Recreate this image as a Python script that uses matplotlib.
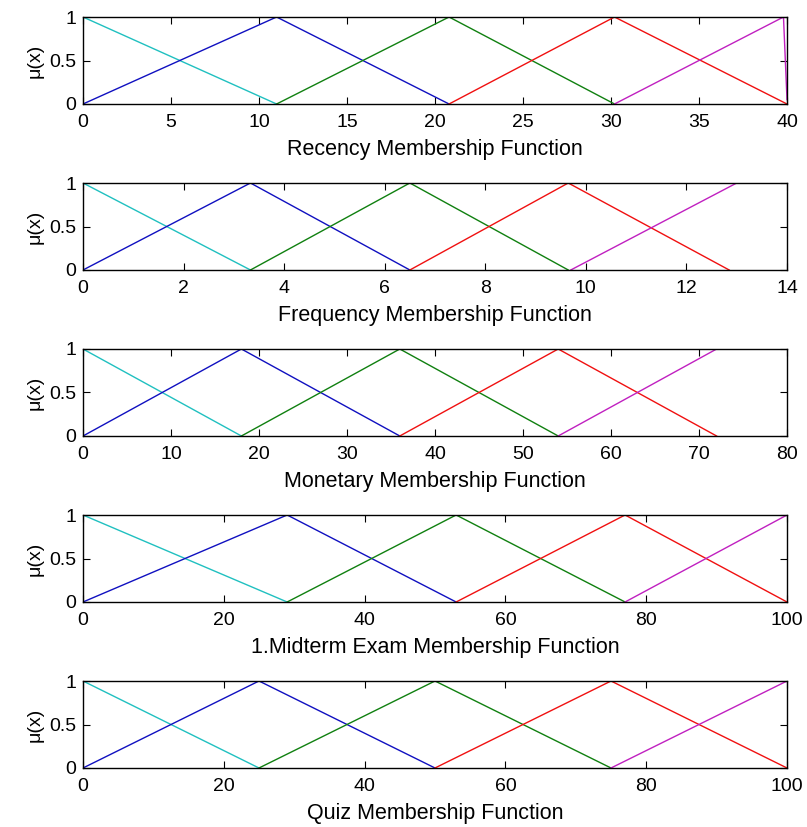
import matplotlib.pyplot as plt
import matplotlib as mpl

mpl.rcParams['font.family'] = ['Liberation Sans', 'DejaVu Sans']
mpl.rcParams['font.size'] = 14

# MATLAB-like colour order used in the original
colors = ['#20c0c0', '#1010c0', '#108010', '#f01010', '#c020c0']

titles = ['Recency Membership Function', 'Frequency Membership Function',
          'Monetary Membership Function', '1.Midterm Exam Membership Function',
          'Quiz Membership Function']
xlims = [(0, 40), (0, 14), (0, 80), (0, 100), (0, 100)]
xticks = [list(range(0, 41, 5)), list(range(0, 15, 2)), list(range(0, 81, 10)),
          list(range(0, 101, 20)), list(range(0, 101, 20))]

# breakpoints (x, mu) of each membership function
recency_x = [[0, 11], [0, 11, 20.8], [11, 20.8, 30.2], [20.8, 30.2, 40], [30.2, 39.8, 40]]
recency_y = [[1, 0], [0, 1, 0], [0, 1, 0], [0, 1, 0], [0, 1, 0.05]]
frequency_x = [[0, 3.33], [0, 3.33, 6.5], [3.33, 6.5, 9.65], [6.5, 9.65, 12.85], [9.7, 13]]
frequency_y = [[1, 0], [0, 1, 0], [0, 1, 0], [0, 1, 0], [0, 1]]
monetary_x = [[0, 18], [0, 18, 36], [18, 36, 54], [36, 54, 72], [54, 72]]
monetary_y = [[1, 0], [0, 1, 0], [0, 1, 0], [0, 1, 0], [0, 1]]
midterm_x = [[0, 29], [0, 29, 53], [29, 53, 77], [53, 77, 100], [77, 100]]
midterm_y = [[1, 0], [0, 1, 0], [0, 1, 0], [0, 1, 0], [0, 1]]
quiz_x = [[0, 25], [0, 25, 50], [25, 50, 75], [50, 75, 100], [75, 100]]
quiz_y = [[1, 0], [0, 1, 0], [0, 1, 0], [0, 1, 0], [0, 1]]

all_x = [recency_x, frequency_x, monetary_x, midterm_x, quiz_x]
all_y = [recency_y, frequency_y, monetary_y, midterm_y, quiz_y]

W, H = 807, 827
fig = plt.figure(figsize=(W / 100, H / 100), dpi=100)

left, right = 83, 787
tops = [17, 183, 349, 515, 681]
ph = 87

for i in range(5):
    ax = fig.add_axes([left / W, 1 - (tops[i] + ph) / H, (right - left) / W, ph / H])
    for j in range(5):
        ax.plot(all_x[i][j], all_y[i][j], color=colors[j], linewidth=1)
    ax.set_xlim(*xlims[i])
    ax.set_ylim(0, 1)
    ax.set_xticks(xticks[i])
    ax.set_yticks([0, 0.5, 1])
    ax.set_yticklabels(['0', '0.5', '1'])
    ax.tick_params(direction='in', top=True, right=True, length=5, labelsize=14)
    ax.tick_params(axis='x', pad=7)
    ax.tick_params(axis='y', pad=5)
    ax.set_xlabel(titles[i], fontsize=15.5, labelpad=6)
    ax.set_ylabel(r'μ(x)', fontsize=14, labelpad=4)
    for s in ax.spines.values():
        s.set_linewidth(1)

fig.savefig('out.png', dpi=100)
